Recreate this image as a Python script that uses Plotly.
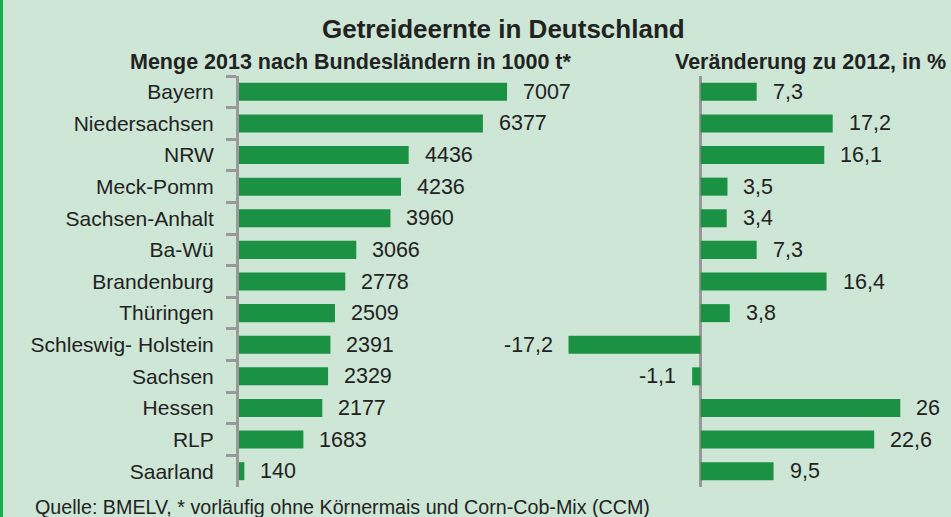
import plotly.graph_objects as go

states = ["Bayern", "Niedersachsen", "NRW", "Meck-Pomm", "Sachsen-Anhalt", "Ba-Wü",
          "Brandenburg", "Thüringen", "Schleswig- Holstein", "Sachsen", "Hessen", "RLP", "Saarland"]
menge_2013 = [7007, 6377, 4436, 4236, 3960, 3066, 2778, 2509, 2391, 2329, 2177, 1683, 140]
veraenderung = [7.3, 17.2, 16.1, 3.5, 3.4, 7.3, 16.4, 3.8, -17.2, -1.1, 26, 22.6, 9.5]
veraenderung_text = ["7,3", "17,2", "16,1", "3,5", "3,4", "7,3", "16,4", "3,8", "-17,2", "-1,1", "26", "22,6", "9,5"]

title = "Getreideernte in Deutschland"
sub_left = "Menge 2013 nach Bundesländern in 1000 t*"
sub_right = "Veränderung zu 2012, in %"
note = "Quelle: BMELV, * vorläufig ohne Körnermais und Corn-Cob-Mix (CCM)"

W, H = 951, 517
BG = "#cde6d5"
BAR = "#1b9143"
AX = "#999999"
TXT = "#222222"
FONT = "Liberation Sans, Arial, sans-serif"

def px(x):
    return x / W

def py(y):
    return 1 - y / H

fig = go.Figure()
fig.add_trace(go.Bar(x=menge_2013, y=states, orientation="h", marker_color=BAR,
                     marker_line_width=0, width=0.57, xaxis="x", yaxis="y",
                     hoverinfo="x+y"))
fig.add_trace(go.Bar(x=veraenderung, y=states, orientation="h", marker_color=BAR,
                     marker_line_width=0, width=0.57, xaxis="x2", yaxis="y2",
                     hoverinfo="x+y"))

annotations = []
for s, v in zip(states, menge_2013):
    annotations.append(dict(x=v, y=s, xref="x", yref="y", text=str(v), showarrow=False,
                            xanchor="left", xshift=14,
                            font=dict(family=FONT, size=21.5, color=TXT)))
for s, v, t in zip(states, veraenderung, veraenderung_text):
    annotations.append(dict(x=v, y=s, xref="x2", yref="y2", text=t, showarrow=False,
                            xanchor="left" if v >= 0 else "right",
                            xshift=14 if v >= 0 else -14,
                            font=dict(family=FONT, size=21.5, color=TXT)))

annotations += [
    dict(x=px(503), y=py(29), xref="paper", yref="paper", text="<b>" + title + "</b>",
         showarrow=False, xanchor="center", yanchor="middle",
         font=dict(family=FONT, size=26, color=TXT)),
    dict(x=px(351), y=py(62), xref="paper", yref="paper", text="<b>" + sub_left + "</b>",
         showarrow=False, xanchor="center", yanchor="middle",
         font=dict(family=FONT, size=21.5, color=TXT)),
    dict(x=px(810), y=py(62), xref="paper", yref="paper", text="<b>" + sub_right + "</b>",
         showarrow=False, xanchor="center", yanchor="middle",
         font=dict(family=FONT, size=21.5, color=TXT)),
    dict(x=px(33), y=py(507), xref="paper", yref="paper", text=note,
         showarrow=False, xanchor="left", yanchor="middle",
         font=dict(family=FONT, size=19.7, color=TXT)),
]

ydom = [py(487), py(76)]
fig.update_layout(
    width=W, height=H,
    margin=dict(l=0, r=0, t=0, b=0),
    paper_bgcolor=BG, plot_bgcolor=BG,
    showlegend=False,
    barmode="overlay",
    annotations=annotations,
    shapes=[dict(type="rect", xref="paper", yref="paper", x0=0, x1=px(3), y0=0, y1=1,
                 fillcolor="#12b04f", line_width=0, layer="above")],
    xaxis=dict(domain=[px(239), px(545)], range=[0, 8000], visible=False, fixedrange=True),
    xaxis2=dict(domain=[px(547), px(931)], range=[-20, 30], showticklabels=False,
                showgrid=False, zeroline=True, zerolinecolor=AX, zerolinewidth=3,
                ticks="", fixedrange=True),
    yaxis=dict(domain=ydom, anchor="x", type="category", categoryarray=states,
               range=[12.5, -0.5], showline=True, linecolor=AX, linewidth=3,
               ticks="outside", ticklen=10, tickwidth=3, tickcolor=AX,
               tickson="boundaries", showgrid=False, ticklabelstandoff=18,
               tickfont=dict(family=FONT, size=21, color=TXT), fixedrange=True),
    yaxis2=dict(domain=ydom, anchor="x2", type="category", categoryarray=states,
                range=[12.5, -0.5], showticklabels=False, showline=False,
                showgrid=False, ticks="", fixedrange=True),
)

fig.write_html("out.html", config={"displayModeBar": False},
               post_script="document.body.style.margin='0';document.body.style.background='" + BG + "';")
